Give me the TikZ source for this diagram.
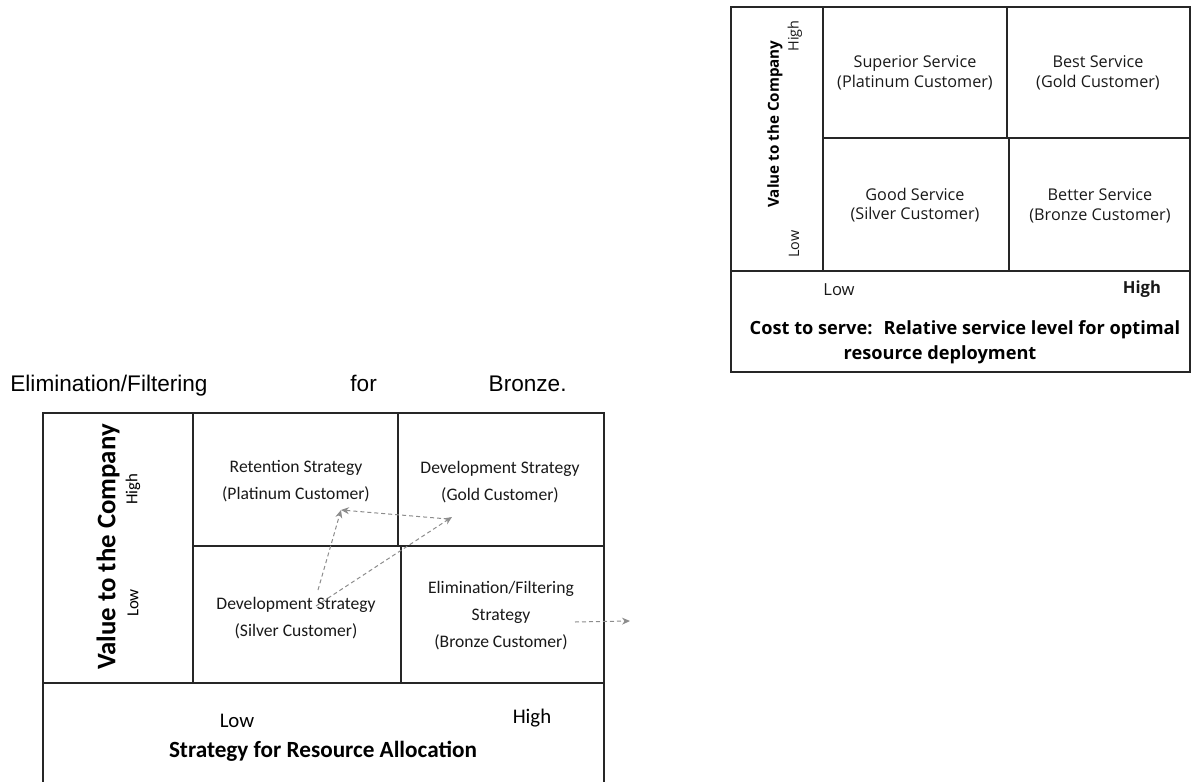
\documentclass[tikz,border=0pt]{standalone}
\usepackage{fontspec}
\setmainfont{Carlito}
\newfontfamily\osans{Open Sans}
\newfontfamily\arial{Liberation Sans}
\usetikzlibrary{arrows.meta}

\begin{document}
\begin{tikzpicture}[x=0.5pt,y=-0.5pt,
  frame/.style={draw=black!85, line width=0.9pt},
  divider/.style={draw=black!85, line width=1pt},
  svctext/.style={font=\osans\fontsize{8.1}{9.8}\selectfont, align=center, inner sep=0pt, text=black!90},
  svcaxis/.style={font=\osans\fontsize{7.2}{9}\selectfont, inner sep=0pt, text=black!90},
  svcbold/.style={font=\osans\bfseries\fontsize{7.6}{12.5}\selectfont, align=center, inner sep=0pt},
  strtext/.style={font=\fontsize{8.8}{13.5}\selectfont, align=center, inner sep=0pt, text=black!90},
  straxis/.style={font=\fontsize{10.4}{11}\selectfont, inner sep=0pt},
  strbold/.style={font=\bfseries\fontsize{11.6}{13}\selectfont, inner sep=0pt},
  sentence/.style={font=\arial\fontsize{11.3}{13}\selectfont, anchor=base west, inner sep=0pt},
  flow/.style={draw=black!45, line width=0.5pt, dash pattern=on 2pt off 1.5pt,
    -{Stealth[length=4pt,width=3.5pt]}}
]
\useasboundingbox (0,0) rectangle (1191,782);

% ---------- service-level matrix ----------
\draw[frame] (731,7) rectangle (1190,372);
\draw[divider] (731,271) -- (1190,271);
\draw[divider] (823,7) -- (823,271);
\draw[divider] (1007,7) -- (1007,138);
\draw[divider] (1009,138) -- (1009,271);
\draw[divider] (823,138) -- (1190,138);

\node[svcbold, rotate=90] (svcV) at (775,124) {Value to the Company};
\node[svcaxis, rotate=90] (svcHi) at (795,36) {High};
\node[svcaxis, rotate=90] (svcLo) at (794,244) {Low};

\node[svctext] (sup) at (915,73) {Superior Service\\(Platinum Customer)};
\node[svctext] (best) at (1098,73) {Best Service\\(Gold Customer)};
\node[svctext] (good) at (915,205) {Good Service\\(Silver Customer)};
\node[svctext] (better) at (1100,206) {Better Service\\(Bronze Customer)};

\node[svcaxis, font=\osans\fontsize{8.3}{9}\selectfont] (svcLow) at (839,290) {Low};
\node[svcaxis, font=\osans\bfseries\fontsize{8.3}{9}\selectfont] (svcHigh) at (1142,289) {High};
\node[svcbold, font=\osans\bfseries\fontsize{9.1}{12.5}\selectfont] (cost1) at (965,330) {Cost to serve:~ Relative service level for optimal};
\node[svcbold, font=\osans\bfseries\fontsize{9.1}{12.5}\selectfont] (cost2) at (940,355) {resource deployment};

% ---------- sentence above the strategy matrix ----------
\node[sentence] (s1) at (10,391) {Elimination/Filtering};
\node[sentence] (s2) at (350,391) {for};
\node[sentence, anchor=base east] (s3) at (567,391) {Bronze.};

% ---------- resource-allocation matrix ----------
\draw[frame] (43,784) -- (43,413) -- (604,413) -- (604,784);
\draw[divider] (43,683) -- (604,683);
\draw[divider] (193,413) -- (193,683);
\draw[divider] (398,413) -- (398,546);
\draw[divider] (401,546) -- (401,683);
\draw[divider] (193,546) -- (604,546);

\node[strbold, font=\bfseries\fontsize{13.4}{14}\selectfont, rotate=90] (strV) at (108,547) {Value to the Company};
\node[straxis, font=\fontsize{8.4}{9}\selectfont, rotate=90] (strHi) at (133,489) {High};
\node[straxis, font=\fontsize{8.4}{9}\selectfont, rotate=90] (strLo) at (133,603) {Low};

\node[strtext] (ret) at (296,481) {Retention Strategy\\(Platinum Customer)};
\node[strtext] (devg) at (500,482) {Development Strategy\\(Gold Customer)};
\node[strtext] (devs) at (296,618) {Development Strategy\\(Silver Customer)};
\node[strtext] (elim) at (501,616) {Elimination/Filtering\\Strategy\\(Bronze Customer)};

\node[straxis] (strLow) at (237,721) {Low};
\node[straxis] (strHigh) at (532,718) {High};
\node[strbold] (alloc) at (323,751) {Strategy for Resource Allocation};

% movement between segments
\coordinate (fromS1) at (318,590);
\coordinate (fromS2) at (316,606);
\coordinate (toR) at (341,510);
\coordinate (toG) at (452,517);
\coordinate (fromG) at (448,519);
\coordinate (out1) at (575,622);
\coordinate (out2) at (630,621);
\draw[flow] (fromS1) -- (toR);
\draw[flow] (fromS2) -- (toG);
\draw[flow] (fromG) -- (toR);
\draw[flow] (out1) -- (out2);
\end{tikzpicture}
\end{document}
